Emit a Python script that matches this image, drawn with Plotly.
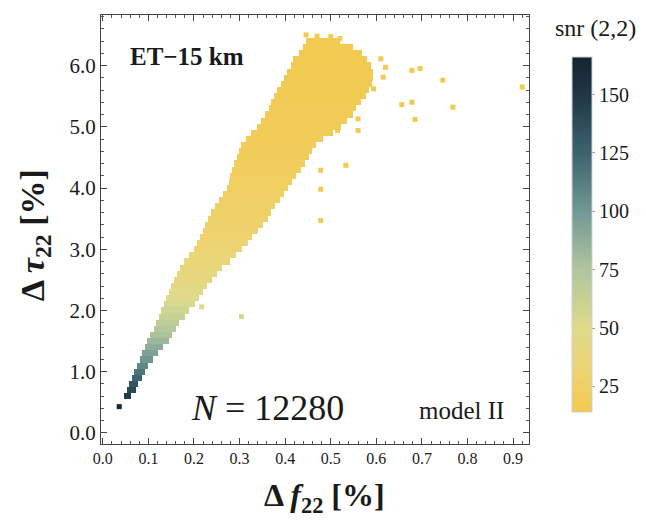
import plotly.graph_objects as go

# Dense core of the sample, one row per 0.1 step in Delta tau_22:
# left/right extent in Delta f_22 and the typical snr(2,2) of that row.
row_tau = [0.6, 0.7, 0.8, 0.9, 1.0, 1.1, 1.2, 1.3, 1.4, 1.5, 1.6, 1.7, 1.8, 1.9,
           2.0, 2.1, 2.2, 2.3, 2.4, 2.5, 2.6, 2.7, 2.8, 2.9, 3.0, 3.1, 3.2, 3.3,
           3.4, 3.5, 3.6, 3.7, 3.8, 3.9, 4.0, 4.1, 4.2, 4.3, 4.4, 4.5, 4.6, 4.7,
           4.8, 4.9, 5.0, 5.1, 5.2, 5.3, 5.4, 5.5, 5.6, 5.7, 5.8, 5.9, 6.0, 6.1,
           6.2, 6.3, 6.4]
row_f_left = [0.046, 0.052, 0.058, 0.063, 0.068, 0.075, 0.081, 0.087, 0.092, 0.097,
              0.104, 0.112, 0.117, 0.123, 0.128, 0.134, 0.139, 0.145, 0.150, 0.156,
              0.162, 0.170, 0.178, 0.190, 0.200, 0.207, 0.213, 0.219, 0.225, 0.231,
              0.238, 0.246, 0.255, 0.264, 0.272, 0.276, 0.280, 0.284, 0.288, 0.294,
              0.298, 0.304, 0.314, 0.326, 0.338, 0.346, 0.356, 0.364, 0.368, 0.376,
              0.382, 0.390, 0.398, 0.404, 0.412, 0.418, 0.430, 0.440, 0.446]
row_f_right = [0.062, 0.072, 0.078, 0.085, 0.092, 0.100, 0.111, 0.122, 0.133, 0.146,
               0.152, 0.160, 0.168, 0.180, 0.190, 0.202, 0.212, 0.220, 0.229, 0.240,
               0.250, 0.262, 0.278, 0.292, 0.306, 0.318, 0.328, 0.340, 0.352, 0.362,
               0.370, 0.378, 0.388, 0.398, 0.406, 0.414, 0.424, 0.434, 0.444, 0.452,
               0.460, 0.468, 0.482, 0.505, 0.522, 0.535, 0.548, 0.556, 0.566, 0.578,
               0.585, 0.590, 0.592, 0.592, 0.588, 0.580, 0.568, 0.548, 0.520]
row_snr = [148, 140, 132, 124, 116, 108, 101, 95, 89, 83, 77, 72, 67, 62,
           58, 54, 50, 47, 44, 42, 40, 38, 36, 34, 33, 31, 30, 29,
           28, 27, 26, 25, 24, 24, 23, 22, 22, 21, 21, 20, 20, 19,
           19, 18, 18, 18, 17, 17, 17, 16, 16, 16, 16, 16, 15, 15,
           15, 15, 15]

# Isolated events outside the dense core
pt_f = [0.036, 0.217, 0.304, 0.478, 0.478, 0.478, 0.533, 0.515, 0.560, 0.560,
        0.594, 0.615, 0.620, 0.610, 0.678, 0.696, 0.746, 0.920, 0.656, 0.678,
        0.768, 0.685, 0.446, 0.470, 0.500, 0.520]
pt_tau = [0.43, 2.06, 1.90, 3.47, 3.98, 4.29, 4.37, 4.94, 4.94, 5.13,
          5.62, 5.81, 5.97, 6.11, 5.92, 5.95, 5.76, 5.65, 5.36, 5.40,
          5.32, 5.12, 6.50, 6.48, 6.47, 6.44]
pt_snr = [163, 48, 55, 17, 17, 17, 16, 16, 16, 16,
          15, 15, 15, 15, 15, 15, 15, 15, 15, 15,
          15, 15, 15, 15, 15, 15]

snr_min, snr_max = 14, 166
snr_ticks = [25, 50, 75, 100, 125, 150]

colorscale = [
    [0.00, "#F2C94F"],
    [0.12, "#EDD473"],
    [0.24, "#DEDA8C"],
    [0.40, "#B0C69E"],
    [0.56, "#749A95"],
    [0.72, "#3F6570"],
    [0.88, "#213A4A"],
    [1.00, "#142330"],
]

SERIF = "Liberation Serif"
INK = "#1a1a1a"

fig = go.Figure()

fig.add_trace(go.Bar(
    orientation="h",
    y=row_tau,
    base=row_f_left,
    x=[r - l for l, r in zip(row_f_left, row_f_right)],
    width=0.1,
    marker=dict(
        color=row_snr,
        colorscale=colorscale,
        cmin=snr_min,
        cmax=snr_max,
        line=dict(width=0),
        colorbar=dict(
            x=1.1005, xanchor="left", xpad=0,
            y=0.488, yanchor="middle", ypad=0,
            len=0.8275, lenmode="fraction",
            thickness=20,
            outlinewidth=1, outlinecolor="#cfcfcf",
            tickvals=snr_ticks,
            ticks="outside", ticklen=3, tickcolor="#999999",
            tickfont=dict(family=SERIF, size=20, color=INK),
        ),
    ),
    hoverinfo="skip",
    showlegend=False,
))

fig.add_trace(go.Scatter(
    x=pt_f, y=pt_tau, mode="markers",
    marker=dict(symbol="square", size=5, color=pt_snr, colorscale=colorscale,
                cmin=snr_min, cmax=snr_max, showscale=False, line=dict(width=0)),
    showlegend=False,
))

axis_common = dict(
    showline=True, linecolor="#444444", linewidth=1.2, mirror="allticks",
    ticks="inside", ticklen=6, tickwidth=1.2, tickcolor="#444444",
    showgrid=False, zeroline=False, tickformat=".1f",
)

fig.update_xaxes(
    range=[-0.004, 0.935], dtick=0.1, tick0=0,
    tickfont=dict(family=SERIF, size=16, color=INK),
    minor=dict(dtick=0.02, ticklen=3, tickcolor="#555555", ticks="inside"),
    **axis_common,
)
fig.update_yaxes(
    range=[-0.18, 6.825], dtick=1, tick0=0,
    tickfont=dict(family=SERIF, size=21, color=INK),
    minor=dict(dtick=0.2, ticklen=3, tickcolor="#555555", ticks="inside"),
    **axis_common,
)

annotations = [
    dict(text="<b>ET\u221215 km</b>", x=0.063, y=0.904, xanchor="left", yanchor="middle",
         font=dict(family=SERIF, size=25, color=INK)),
    dict(text="<i>N</i> = 12280", x=0.205, y=0.083, xanchor="left", yanchor="middle",
         font=dict(family=SERIF, size=36, color=INK)),
    dict(text="model II", x=0.738, y=0.077, xanchor="left", yanchor="middle",
         font=dict(family=SERIF, size=25, color=INK)),
    dict(text="<b>\u0394 <i>f</i><sub>22</sub> [%]</b>", x=0.523, y=-0.124, xanchor="center",
         yanchor="middle", font=dict(family=SERIF, size=32, color=INK)),
    dict(text="<b>\u0394 <i>\u03c4</i><sub>22</sub> [%]</b>", x=-0.154, y=0.487,
         xanchor="center", yanchor="middle", textangle=-90,
         font=dict(family=SERIF, size=34, color=INK)),
    dict(text="snr (2,2)", x=1.1565, y=0.97, xanchor="center", yanchor="middle",
         font=dict(family=SERIF, size=24, color=INK)),
]
for a in annotations:
    a.update(xref="paper", yref="paper", showarrow=False)

fig.update_layout(
    width=646, height=521,
    margin=dict(l=101, r=117, t=15, b=77),
    paper_bgcolor="white", plot_bgcolor="white",
    annotations=annotations,
    bargap=0,
)

fig.write_html("out.html")
